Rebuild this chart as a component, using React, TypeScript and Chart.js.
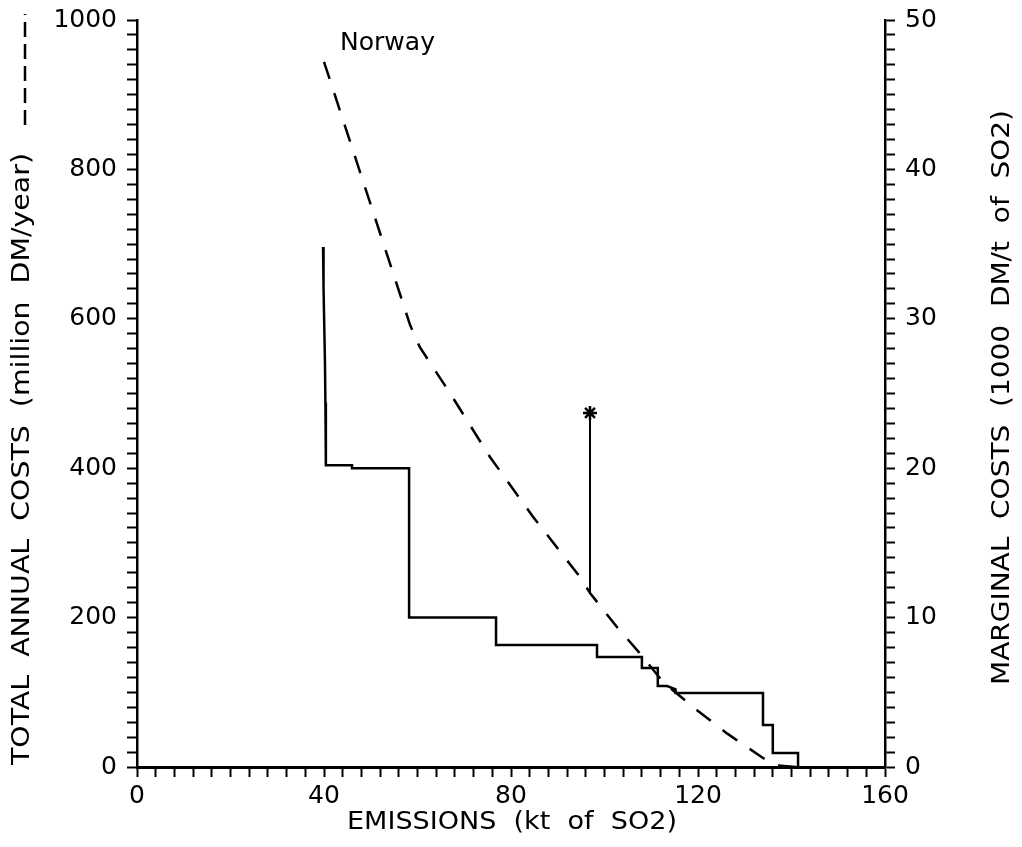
import React, { useEffect, useRef } from "react";
import { Chart, registerables } from "chart.js";

Chart.register(...registerables);

// Total annual costs (million DM/year), left axis, dashed curve
const totalEmissions = [40, 58.4, 60.5, 67, 75.5, 84.7, 94.8, 96.9, 102.7, 107.6, 112.5, 119.8, 126.2, 133.9, 137, 141];
const totalCosts = [944, 592, 562, 500, 415, 335, 254, 233, 187, 152, 114, 76, 45, 12, 2, 0];

// Marginal costs (1000 DM/t of SO2), right axis, step curve
const marginalEmissions = [39.8, 39.9, 40.2, 40.3, 40.4, 46.0, 46.0, 58.2, 58.2, 76.8, 76.8, 98.4, 98.4, 108.0, 108.0, 111.4, 111.4, 113.4, 115.2, 115.2, 133.9, 133.9, 136.0, 136.0, 141.4, 141.4];
const marginalCosts = [34.8, 32.1, 27.2, 24.4, 20.2, 20.2, 20.0, 20.0, 10.0, 10.0, 8.17, 8.17, 7.36, 7.36, 6.63, 6.63, 5.42, 5.42, 5.2, 4.95, 4.95, 2.81, 2.81, 0.94, 0.94, 0];

// Marked point (star) with drop line, left axis units
const markEmissions = [96.9, 96.9];
const markCosts = [474, 233];

const xTickLabels = [0, 40, 80, 120, 160];
const leftTickLabels = [0, 200, 400, 600, 800, 1000];
const rightTickLabels = [0, 10, 20, 30, 40, 50];

const FONT = '"DejaVu Sans", sans-serif';

const titlePlugin = {
  id: "titles",
  afterDraw(chart: any) {
    const ctx = chart.ctx as CanvasRenderingContext2D;
    const drawFit = (text: string, x: number, y: number, rot: number, width: number, align: "left" | "center", size: number) => {
      ctx.save();
      ctx.font = `${size}px ${FONT}`;
      ctx.fillStyle = "#000";
      ctx.textBaseline = "middle";
      ctx.textAlign = align;
      ctx.translate(x, y);
      ctx.rotate(rot);
      const w = ctx.measureText(text).width;
      ctx.scale(width / w, 1);
      ctx.fillText(text, 0, 0);
      ctx.restore();
    };
    drawFit("TOTAL  ANNUAL  COSTS  (million  DM/year)", 23, 765, -Math.PI / 2, 612, "left", 24);
    drawFit("MARGINAL  COSTS  (1000  DM/t  of  SO2)", 1003, 685, -Math.PI / 2, 575, "left", 24);
    drawFit("EMISSIONS  (kt  of  SO2)", 512, 823, 0, 330, "center", 24);
    // legend dash next to left title
    ctx.save();
    ctx.strokeStyle = "#000";
    ctx.lineWidth = 2.5;
    ctx.setLineDash([15, 7]);
    ctx.beginPath();
    ctx.moveTo(25, 125);
    ctx.lineTo(25, 14);
    ctx.stroke();
    ctx.restore();
    // Norway label
    ctx.save();
    ctx.font = `24px ${FONT}`;
    ctx.fillStyle = "#000";
    ctx.textBaseline = "alphabetic";
    ctx.textAlign = "left";
    const w = ctx.measureText("Norway").width;
    ctx.translate(340, 50);
    ctx.scale(95 / w, 1);
    ctx.fillText("Norway", 0, 0);
    ctx.restore();
  },
};

export default function App() {
  const ref = useRef<HTMLCanvasElement>(null);
  useEffect(() => {
    if (!ref.current) return;
    const toPts = (xs: number[], ys: number[]) => xs.map((x, i) => ({ x, y: ys[i] }));
    const tickFont = { family: FONT, size: 25 };
    const fitY = (s: any) => { s.width = 137; s.paddingTop = 0; s.paddingBottom = 0; };
    const chart = new Chart(ref.current, {
      type: "scatter",
      data: {
        datasets: [
          {
            data: toPts(totalEmissions, totalCosts),
            yAxisID: "y",
            showLine: true,
            borderColor: "#000",
            borderWidth: 2.5,
            borderDash: [18, 15],
            pointRadius: 0,
          },
          {
            data: toPts(marginalEmissions, marginalCosts),
            yAxisID: "y1",
            showLine: true,
            borderColor: "#000",
            borderWidth: 2.5,
            pointRadius: 0,
          },
          {
            data: toPts(markEmissions, markCosts),
            yAxisID: "y",
            showLine: true,
            borderColor: "#000",
            borderWidth: 2,
            pointStyle: "star",
            pointRadius: [7, 0],
            pointBorderWidth: 2.5,
            pointBorderColor: "#000",
          },
        ],
      },
      options: {
        animation: false,
        responsive: false,
        layout: { padding: { top: 20, left: 0, right: 0, bottom: 0 } },
        plugins: { legend: { display: false }, tooltip: { enabled: false } },
        scales: {
          x: {
            type: "linear",
            position: "bottom",
            min: 0,
            max: 160,
            afterFit: (s: any) => { s.height = 80; s.paddingLeft = 0; s.paddingRight = 0; },
            ticks: {
              stepSize: 4,
              autoSkip: false,
              maxRotation: 0,
              padding: 4,
              color: "#000",
              font: tickFont,
              callback: (v: any) => (xTickLabels.includes(Math.round(v)) && Math.abs(v - Math.round(v)) < 1e-6 ? String(Math.round(v)) : ""),
            },
            grid: { drawOnChartArea: false, tickLength: 10, tickWidth: 2, tickColor: "#000" },
            border: { color: "#000", width: 3 },
          },
          y: {
            type: "linear",
            position: "left",
            min: 0,
            max: 1000,
            afterFit: fitY,
            ticks: {
              stepSize: 20,
              autoSkip: false,
              padding: 10,
              color: "#000",
              font: tickFont,
              callback: (v: any) => (leftTickLabels.includes(Math.round(v)) ? String(Math.round(v)) : ""),
            },
            grid: { drawOnChartArea: false, tickLength: 10, tickWidth: 2, tickColor: "#000" },
            border: { color: "#000", width: 2.5 },
          },
          y1: {
            type: "linear",
            position: "right",
            min: 0,
            max: 50,
            afterFit: fitY,
            ticks: {
              stepSize: 1,
              autoSkip: false,
              padding: 10,
              color: "#000",
              font: tickFont,
              callback: (v: any) => (rightTickLabels.includes(Math.round(v)) && Math.abs(v - Math.round(v)) < 1e-6 ? String(Math.round(v)) : ""),
            },
            grid: { drawOnChartArea: false, tickLength: 10, tickWidth: 2, tickColor: "#000" },
            border: { color: "#000", width: 2.5 },
          },
        },
      },
      plugins: [titlePlugin],
    } as any);
    return () => chart.destroy();
  }, []);
  return (
    <div style={{ position: "absolute", left: 0, top: 0, width: 1022, height: 847, background: "#fff" }}>
      <canvas ref={ref} width={1022} height={847} style={{ display: "block" }} />
    </div>
  );
}
